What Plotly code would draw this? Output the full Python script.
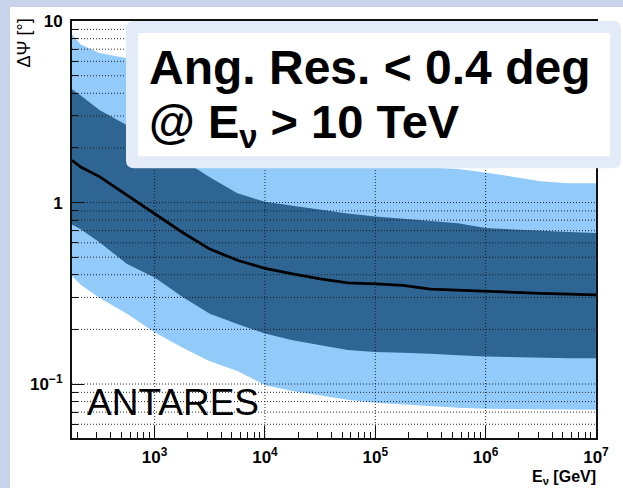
import plotly.graph_objects as go

# ---------------- data ----------------
energy_gev = [178, 214, 316, 562, 1000, 1778, 3162, 5623, 10000, 17783, 31623,
              56234, 100000, 177828, 316228, 562341, 1000000, 1778279,
              3162278, 5623413, 10000000]
median_deg = [1.71, 1.57, 1.39, 1.10, 0.865, 0.686, 0.554, 0.481, 0.434, 0.404,
              0.380, 0.361, 0.356, 0.350, 0.333, 0.328, 0.324, 0.320, 0.316,
              0.313, 0.310]
dark_upper = [4.21, 3.89, 3.24, 2.67, 2.15, 1.72, 1.38, 1.125, 1.01, 0.96, 0.91,
              0.87, 0.838, 0.818, 0.792, 0.768, 0.724, 0.711, 0.698, 0.688, 0.68]
dark_lower = [0.758, 0.712, 0.605, 0.458, 0.386, 0.303, 0.244, 0.214, 0.190,
              0.174, 0.163, 0.154, 0.150, 0.1486, 0.147, 0.144, 0.142, 0.1405,
              0.1396, 0.1387, 0.1387]
light_upper = [8.45, 7.42, 6.68, 6.24, 5.3, 4.5, 3.8, 3.2, 2.7, 2.3, 2.0, 1.8,
               1.68, 1.6, 1.56, 1.53, 1.466, 1.39, 1.31, 1.276, 1.276]
light_lower = [0.394, 0.352, 0.299, 0.244, 0.193, 0.159, 0.1336, 0.118, 0.0985,
               0.0916, 0.0865, 0.0818, 0.0788, 0.0768, 0.0753, 0.0739, 0.073,
               0.0726, 0.0724, 0.0722, 0.0721]

x_tickvals = [1e3, 1e4, 1e5, 1e6, 1e7]
x_ticktext = ["10<sup>3</sup>", "10<sup>4</sup>", "10<sup>5</sup>",
              "10<sup>6</sup>", "10<sup>7</sup>"]
y_tickvals = [0.1, 1, 10]
y_ticktext = ["10<sup>\u22121</sup>", "1", "10"]
x_minor = [200, 300, 400, 500, 600, 700, 800, 900] + \
          [m * 10 ** d for d in range(3, 7) for m in range(2, 10)]
y_minor = [0.06, 0.07, 0.08, 0.09] + \
          [m * 10 ** d for d in (-1, 0) for m in range(2, 10)]
x_grid = [1e3, 1e4, 1e5, 1e6]
y_grid = y_minor + [0.1, 1]

X_RANGE = [2.251, 7.0005]
Y_RANGE = [-1.2975, 1.0005]

LIGHT = "#92cbf9"
DARK = "#2e6592"
FONT = "Liberation Sans"

# ---------------- layout geometry helpers ----------------
FW, FH = 623, 488
ML, MR, MT, MB = 72, 27, 19, 50
PW, PH = FW - ML - MR, FH - MT - MB


def px(x):
    return (x - ML) / PW


def py(y):
    return (FH - MB - y) / PH


def rounded(x0, y0, x1, y1, r):
    rx, ry = r / PW, r / PH
    a, b, c, d = px(x0), py(y1), px(x1), py(y0)  # left, bottom, right, top
    return (f"M {a+rx},{b} L {c-rx},{b} Q {c},{b} {c},{b+ry} "
            f"L {c},{d-ry} Q {c},{d} {c-rx},{d} L {a+rx},{d} "
            f"Q {a},{d} {a},{d-ry} L {a},{b+ry} Q {a},{b} {a+rx},{b} Z")


fig = go.Figure()

# bands
fig.add_trace(go.Scatter(x=energy_gev + energy_gev[::-1],
                         y=light_upper + light_lower[::-1],
                         fill="toself", fillcolor=LIGHT, line=dict(width=0),
                         mode="lines", hoverinfo="skip", showlegend=False))
fig.add_trace(go.Scatter(x=energy_gev + energy_gev[::-1],
                         y=dark_upper + dark_lower[::-1],
                         fill="toself", fillcolor=DARK, line=dict(width=0),
                         mode="lines", hoverinfo="skip", showlegend=False))

# dotted grid drawn above the bands
xlo, xhi = 10 ** X_RANGE[0], 10 ** X_RANGE[1]
ylo, yhi = 10 ** Y_RANGE[0], 10 ** Y_RANGE[1]
hx, hy = [], []
for v in y_grid:
    hx += [xlo, xhi, None]
    hy += [v, v, None]
vx, vy = [], []
for v in x_grid:
    vx += [v, v, None]
    vy += [ylo, yhi, None]
grid_line = dict(color="rgba(20,20,20,0.9)", width=1, dash="1px,2px")
fig.add_trace(go.Scatter(x=hx, y=hy, mode="lines", line=grid_line,
                         hoverinfo="skip", showlegend=False))
fig.add_trace(go.Scatter(x=vx, y=vy, mode="lines", line=grid_line,
                         hoverinfo="skip", showlegend=False))

# median line
fig.add_trace(go.Scatter(x=energy_gev, y=median_deg, mode="lines",
                         line=dict(color="black", width=2.8),
                         hoverinfo="skip", showlegend=False))

axis_common = dict(showgrid=False, zeroline=False, showline=True,
                   linecolor="#111", linewidth=2, mirror=True,
                   ticks="inside", ticklen=12, tickwidth=1, tickcolor="#111",
                   layer="above traces",
                   tickfont=dict(family=FONT, size=17, color="black",
                                 weight="bold"))

fig.update_xaxes(type="log", range=X_RANGE, tickmode="array",
                 tickvals=x_tickvals, ticktext=x_ticktext,
                 ticklabelstandoff=3,
                 minor=dict(tickmode="array", tickvals=x_minor,
                            ticks="inside", ticklen=6, tickcolor="#111",
                            showgrid=False),
                 **axis_common)
fig.update_yaxes(type="log", range=Y_RANGE, tickmode="array",
                 tickvals=y_tickvals, ticktext=y_ticktext,
                 ticklabelstandoff=4,
                 minor=dict(tickmode="array", tickvals=y_minor,
                            ticks="inside", ticklen=6, tickcolor="#111",
                            showgrid=False),
                 **axis_common)

shapes = [
    # white page on a blue-grey slide background
    dict(type="rect", xref="paper", yref="paper", layer="below",
         x0=px(10), x1=px(FW + 5), y0=py(FH + 5), y1=py(5),
         fillcolor="white", line=dict(width=0)),
    # headline box
    dict(type="path", xref="paper", yref="paper", layer="above",
         path=rounded(126, 19, 621, 167, 8),
         fillcolor="#e3eaf8", line=dict(width=0)),
    dict(type="rect", xref="paper", yref="paper", layer="above",
         x0=px(138), x1=px(610), y0=py(155), y1=py(31),
         fillcolor="white", line=dict(width=0)),
]

annotations = [
    dict(text="<b>Ang. Res. &lt; 0.4 deg</b>", x=px(147), y=py(66),
         xref="paper", yref="paper", xanchor="left", yanchor="middle",
         showarrow=False, font=dict(family=FONT, size=48, color="black")),
    dict(text="<b>@ E<sub>\u03bd</sub> &gt; 10 TeV</b>", x=px(147), y=py(123),
         xref="paper", yref="paper", xanchor="left", yanchor="middle",
         showarrow=False, font=dict(family=FONT, size=47, color="black")),
    dict(text="ANTARES", x=px(85), y=py(402), xref="paper", yref="paper",
         xanchor="left", yanchor="middle", showarrow=False,
         font=dict(family=FONT, size=37, color="black")),
    dict(text="\u0394\u03a8 [\u00b0]", x=px(24), y=py(15), xref="paper",
         yref="paper", xanchor="center", yanchor="top", textangle=-90,
         showarrow=False, font=dict(family=FONT, size=18, color="black")),
    dict(text="<b>E<sub>\u03bd</sub> [GeV]</b>", x=px(598), y=py(478),
         xref="paper", yref="paper", xanchor="right", yanchor="middle",
         showarrow=False, font=dict(family=FONT, size=16, color="black")),
]

fig.update_layout(width=FW, height=FH,
                  margin=dict(l=ML, r=MR, t=MT, b=MB, pad=0),
                  paper_bgcolor="#c9d2eb", plot_bgcolor="white",
                  shapes=shapes, annotations=annotations,
                  font=dict(family=FONT))

fig.write_html("out.html")
